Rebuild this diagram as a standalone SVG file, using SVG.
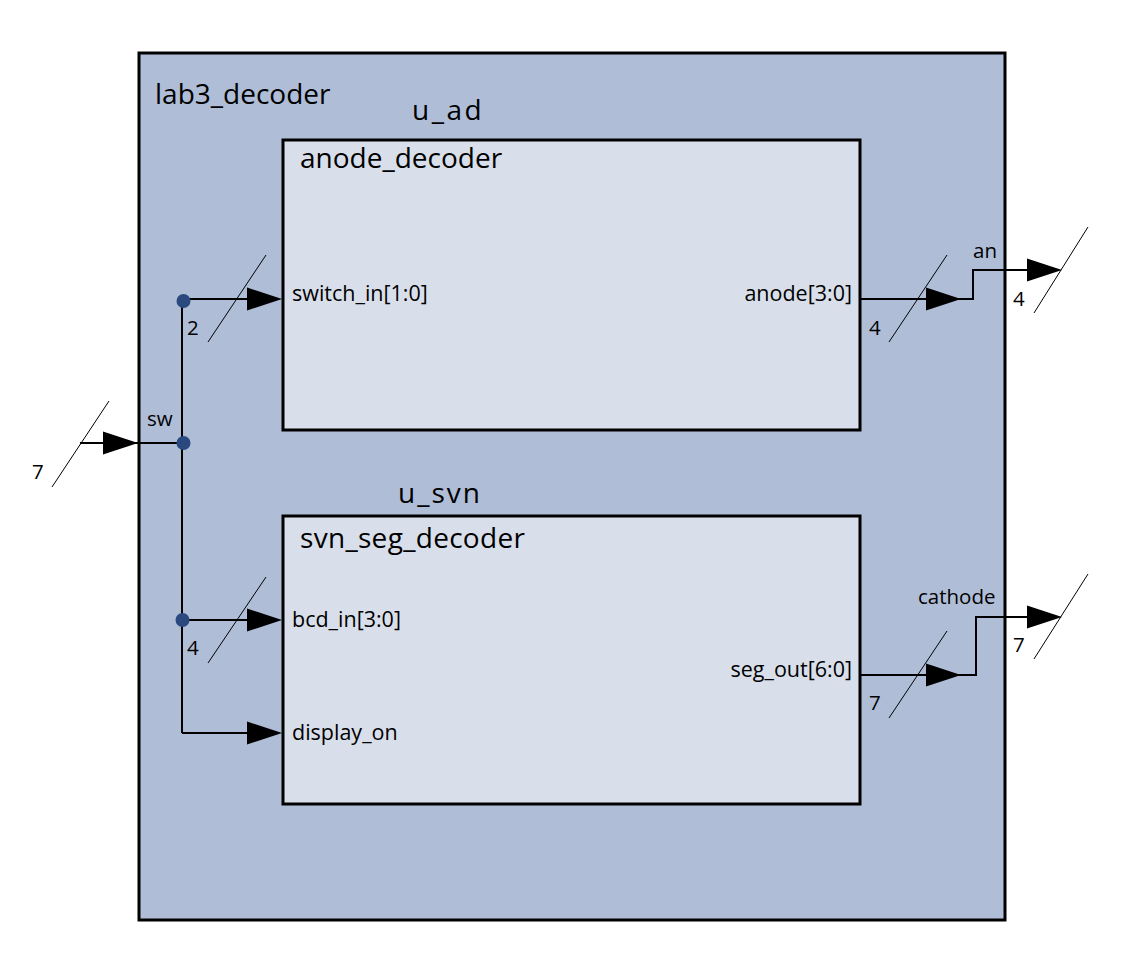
<svg xmlns="http://www.w3.org/2000/svg" xmlns:xlink="http://www.w3.org/1999/xlink" width="1130" height="958" viewBox="0 0 1130 958">
<style>
.outer{fill:#afbdd7;stroke:#000;stroke-width:3}
.inst{fill:#d8dfea;stroke:#000;stroke-width:3}
.w{fill:none;stroke:#000;stroke-width:2}
.sl{fill:none;stroke:#000;stroke-width:1}
.dot{fill:#2a4a7f}
.ah{fill:#000}
text{font-family:"Open Sans","Liberation Sans",sans-serif;fill:#000}
.big{font-size:28px}
.port{font-size:21.5px}
.lbl{font-size:20.5px}
</style>
<defs>
<path id="arr" d="M0,-11.5 L35,0 L0,11.5 Z"/>
</defs>
<rect width="1130" height="958" fill="#fff"/>
<g id="lab3_decoder">
<rect class="outer" x="139" y="53" width="866" height="867"/>
<text class="big" x="155" y="104">lab3_decoder</text>
</g>
<g id="u_ad">
<text class="big" x="412" y="120" letter-spacing="2.5">u_ad</text>
<rect class="inst" x="283" y="140" width="577" height="290"/>
<text class="big" x="300" y="168">anode_decoder</text>
<text class="port" x="292" y="301">switch_in[1:0]</text>
<text class="port" x="852" y="301" text-anchor="end">anode[3:0]</text>
</g>
<g id="u_svn">
<text class="big" x="398" y="503" letter-spacing="2">u_svn</text>
<rect class="inst" x="283" y="516" width="577" height="288"/>
<text class="big" x="300" y="548" letter-spacing="0.3">svn_seg_decoder</text>
<text class="port" x="292" y="627">bcd_in[3:0]</text>
<text class="port" x="292" y="740">display_on</text>
<text class="port" x="852" y="677" text-anchor="end">seg_out[6:0]</text>
</g>
<g id="connectors">
<polyline class="w" points="80,443 182,443"/>
<use href="#arr" xlink:href="#arr" class="ah" x="103" y="443"/>
<line class="sl" x1="52" y1="487" x2="109" y2="401"/>
<text class="lbl" x="32" y="479">7</text>
<text class="lbl" x="147" y="426">sw</text>
<polyline class="w" points="182,299 182,733"/>
<polyline class="w" points="182,299 250,299"/>
<use href="#arr" xlink:href="#arr" class="ah" x="247" y="299"/>
<line class="sl" x1="208" y1="342" x2="266" y2="255"/>
<text class="lbl" x="187" y="335">2</text>
<polyline class="w" points="182,620 250,620"/>
<use href="#arr" xlink:href="#arr" class="ah" x="247" y="620"/>
<line class="sl" x1="208" y1="663" x2="266" y2="577"/>
<text class="lbl" x="187" y="655">4</text>
<polyline class="w" points="182,733 250,733"/>
<use href="#arr" xlink:href="#arr" class="ah" x="247" y="733"/>
<circle class="dot" cx="183.5" cy="301" r="7"/>
<circle class="dot" cx="183.5" cy="443" r="7"/>
<circle class="dot" cx="182.5" cy="620" r="7"/>
<polyline class="w" points="860,299 973,299 973,270 1030,270"/>
<use href="#arr" xlink:href="#arr" class="ah" x="926" y="299"/>
<use href="#arr" xlink:href="#arr" class="ah" x="1027" y="270"/>
<line class="sl" x1="889" y1="342" x2="947" y2="255"/>
<line class="sl" x1="1034" y1="313" x2="1088" y2="227"/>
<text class="lbl" x="869" y="335">4</text>
<text class="lbl" x="1013" y="306">4</text>
<text class="lbl" x="973" y="258">an</text>
<polyline class="w" points="860,675 976,675 976,617 1030,617"/>
<use href="#arr" xlink:href="#arr" class="ah" x="926" y="675"/>
<use href="#arr" xlink:href="#arr" class="ah" x="1027" y="617"/>
<line class="sl" x1="889" y1="718" x2="947" y2="631"/>
<line class="sl" x1="1034" y1="659" x2="1088" y2="574"/>
<text class="lbl" x="869" y="710">7</text>
<text class="lbl" x="1013" y="652">7</text>
<text class="lbl" x="918" y="604">cathode</text>
</g>
</svg>
